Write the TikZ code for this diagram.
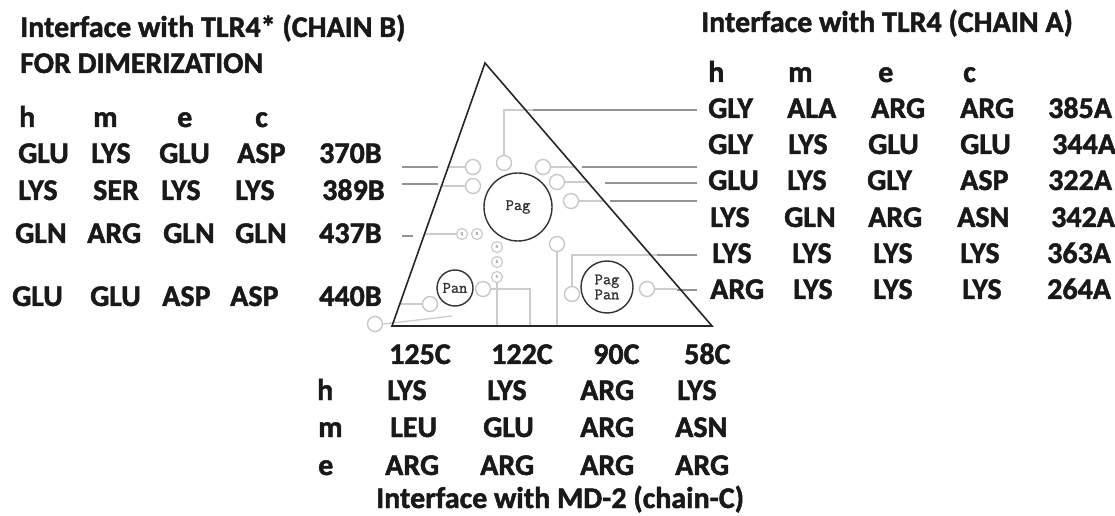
\documentclass[tikz,border=0pt]{standalone}
\usepackage{fontspec}
\setmainfont{Carlito}[BoldFeatures={FakeBold=1.6}]
\newfontfamily\monob{Latin Modern Mono}[FakeBold=1.2]
\begin{document}
\begin{tikzpicture}[x=1bp,y=-1bp,
  lbl/.style={anchor=base west,inner sep=0pt,font=\fontsize{30bp}{34bp}\selectfont\bfseries,text=black!90},
  tri/.style={draw=black!85,line width=1.6bp,line join=miter},
  bigc/.style={circle,draw=black!80,line width=1.4bp,inner sep=0pt,font=\monob\fontsize{16bp}{16bp}\selectfont,align=center,text=black!80},
  smallc/.style={circle,draw=gray!45,line width=1.3bp,inner sep=0pt,minimum size=15bp},
  tinyc/.style={circle,draw=gray!45,line width=1.1bp,inner sep=0pt,minimum size=11bp,font=\ttfamily\fontsize{5bp}{5bp}\selectfont,text=black!60},
  inl/.style={draw=gray!40,line width=1.3bp},
  outl/.style={draw=gray!85,line width=1.8bp}]
\useasboundingbox[fill=white] (0,0) rectangle (1115,516);

% triangle
\coordinate (apex) at (485,63);
\coordinate (bl) at (392,326);
\coordinate (br) at (712,326);

% big circles
\node[bigc,minimum size=68bp] (pag) at (518,207) {Pag};
\node[bigc,minimum size=36bp] (pan) at (455,288) {Pan};
\node[bigc,minimum size=52bp] (pp) at (607,287) {Pag\\[-1bp]Pan};

% small circles
\node[smallc] (c1) at (473,167) {};
\node[smallc] (c2) at (473,186) {};
\node[smallc] (c3) at (504,163) {};
\node[smallc] (c4) at (543,167) {};
\node[smallc] (c5) at (557,182) {};
\node[smallc] (c6) at (571,201) {};
\node[smallc] (c7) at (557,244) {};
\node[smallc] (c8) at (572,294) {};
\node[smallc] (c9) at (647,289) {};
\node[smallc] (c10) at (483,289) {};
\node[smallc] (c11) at (430,304) {};
\node[smallc] (c12) at (375,324) {};
\node[tinyc] (q) at (462,234) {Q};
\node[tinyc] (r1) at (477,234) {R};
\node[tinyc] (r2) at (497,247) {R};
\node[tinyc] (e) at (497,262) {E};
\node[tinyc] (k) at (497,277) {K};

% inner connectors
\draw[inl] (c1.west) -- (448,167);
\draw[inl] (c2.west) -- (441,186);
\draw[inl] (q.west) -- (425,234);
\draw[inl] (c3.north) |- (533,110);
\draw[inl] (c4.east) -- (575,167);
\draw[inl] (c5.east) -- (588,182);
\draw[inl] (c6.east) -- (604,201);
\draw[inl] (c7.south) -- (557,326);
\draw[inl] (c8.north) |- (657,255);
\draw[inl] (c9.east) -- (677,289);
\draw[inl] (c10.east) -| (530,326);
\draw[inl] (k.south) -- (497,326);
\draw[inl] (c11.west) -- (400,304);
\draw[inl] (c12.east) -- (452,316);

% outer connectors
\draw[outl] (402,167) -- (438,167);
\draw[outl] (402,184) -- (438,184);
\draw[outl] (402,236) -- (413,236);
\draw[outl] (533,110) -- (697,110);
\draw[outl] (582,167) -- (697,167);
\draw[outl] (605,183) -- (697,183);
\draw[outl] (610,201) -- (697,201);
\draw[outl] (657,255) -- (697,255);
\draw[outl] (677,290) -- (697,290);

\draw[tri] (apex) -- (bl) -- (br) -- cycle;

% left block
\node[lbl] (tb1) at (20,37) {Interface with TLR4* (CHAIN B)};
\node[lbl] (tb2) at (20,73) {FOR DIMERIZATION};
\foreach \t/\x/\y [count=\i] in {h/19/127,m/93/127,e/177/127,c/255/127,
  GLU/18/163,LYS/91/163,GLU/159/163,ASP/237/163,370B/319/163,
  LYS/18/200,SER/93/200,LYS/161/200,LYS/235/200,389B/322/200,
  GLN/15/243,ARG/87/243,GLN/163/243,GLN/235/243,437B/319/243,
  GLU/12/306,GLU/90/306,ASP/162/306,ASP/230/306,440B/319/306}
  \node[lbl] (lb\i) at (\x,\y) {\t};

% right block
\node[lbl] (ta1) at (701,32) {Interface with TLR4 (CHAIN A)};
\foreach \t/\x/\y [count=\i] in {h/708/82,m/788/82,e/878/82,c/963/82,
  GLY/708/118,ALA/787/118,ARG/871/118,ARG/960/118,385A/1048/118,
  GLY/708/154,LYS/788/154,GLU/868/154,GLU/960/154,344A/1052/154,
  GLU/708/190,LYS/787/190,GLY/867/190,ASP/960/190,322A/1048/190,
  LYS/710/227,GLN/784/227,ARG/868/227,ASN/957/227,342A/1051/227,
  LYS/712/263,LYS/792/263,LYS/873/263,LYS/960/263,363A/1047/263,
  ARG/710/299,LYS/793/299,LYS/873/299,LYS/962/299,264A/1047/299}
  \node[lbl] (la\i) at (\x,\y) {\t};

% bottom block
\foreach \t/\x/\y [count=\i] in {125C/389/364,122C/491/364,90C/593/364,58C/684/364,
  h/317/400,LYS/387/400,LYS/487/400,ARG/580/400,LYS/677/400,
  m/318/437,LEU/390/437,GLU/483/437,ARG/580/437,ASN/675/437,
  e/318/475,ARG/385/475,ARG/480/475,ARG/580/475,ARG/675/475}
  \node[lbl] (lc\i) at (\x,\y) {\t};
\node[lbl] (tc1) at (376,508) {Interface with MD-2 (chain-C)};
\end{tikzpicture}
\end{document}
